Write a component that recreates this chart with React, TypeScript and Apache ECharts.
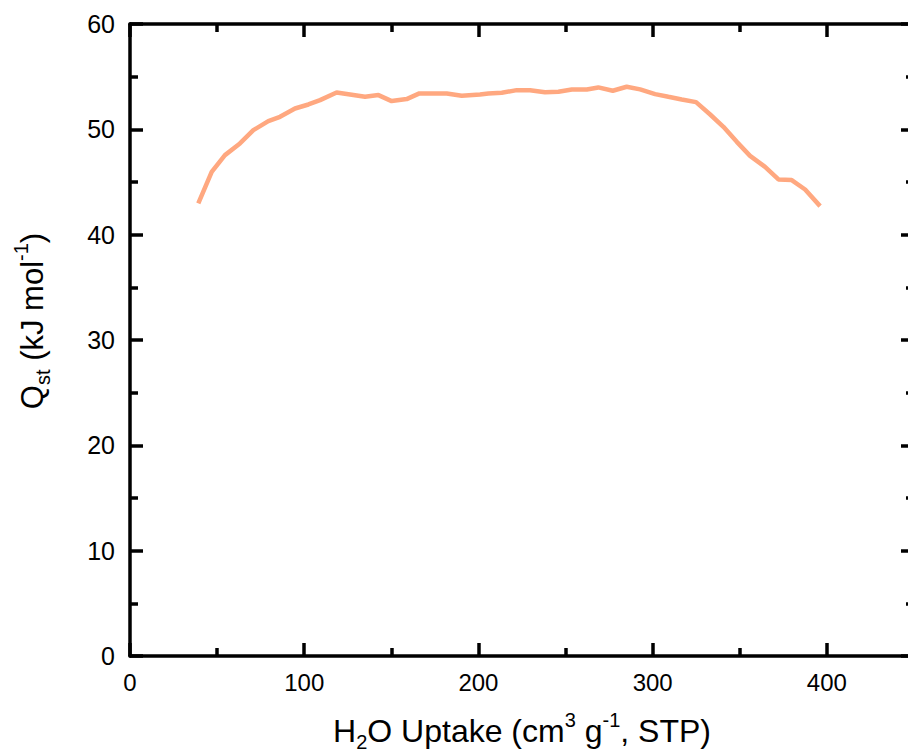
import React, { useEffect, useRef } from "react";
import * as echarts from "echarts";

const uptake = [39.2, 46.9, 54.5, 63.1, 70.8, 79.4, 86.1, 94.7, 102.4, 109.1, 118.6, 126.3, 134.9, 142.6, 150.2, 158.8, 166.1, 174.1, 181.8, 190.4, 200.9, 205.7, 213.4, 222.0, 229.6, 238.2, 245.9, 253.6, 262.2, 268.8, 277.1, 285.1, 292.8, 301.4, 309.0, 316.7, 324.9, 333.0, 340.6, 348.3, 355.9, 364.5, 372.2, 379.8, 387.5, 396.1];
const qst = [42.96, 45.96, 47.55, 48.66, 49.92, 50.78, 51.19, 51.98, 52.36, 52.77, 53.5, 53.31, 53.09, 53.25, 52.68, 52.87, 53.41, 53.41, 53.41, 53.18, 53.31, 53.41, 53.47, 53.72, 53.72, 53.53, 53.56, 53.79, 53.79, 53.98, 53.66, 54.04, 53.79, 53.34, 53.09, 52.84, 52.58, 51.41, 50.24, 48.81, 47.48, 46.44, 45.24, 45.18, 44.29, 42.71];

const xTitle = "H{sub|2}O Uptake (cm{sup|3} g{sup|-1}, STP)";
const yTitle = "Q{sub|st} (kJ mol{sup|-1})";

const FONT = "'Liberation Sans', Arial, sans-serif";

export default function App() {
  const ref = useRef<HTMLDivElement>(null);
  useEffect(() => {
    if (!ref.current) return;
    const chart = echarts.init(ref.current, undefined, { renderer: "svg" });
    const axisLine = { show: true, onZero: false, lineStyle: { color: "#000", width: 3.5 } };
    const tick = { show: true, inside: true, length: 13, lineStyle: { color: "#000", width: 3.5 } };
    const minor = { show: true, splitNumber: 2, length: 8, lineStyle: { color: "#000", width: 3.5 } };
    const rich = {
      sub: { fontSize: 20, fontFamily: FONT, color: "#000", verticalAlign: "bottom", lineHeight: 42 },
      sup: { fontSize: 20, fontFamily: FONT, color: "#000", verticalAlign: "top", lineHeight: 42 },
    };
    chart.setOption({
      animation: false,
      backgroundColor: "#fff",
      grid: { left: 130, top: 24, bottom: 97, right: 16, containLabel: false, outerBoundsMode: "none" },
      xAxis: [
        {
          type: "value",
          position: "bottom",
          min: 0,
          max: 450,
          interval: 100,
          axisLine,
          axisTick: tick,
          minorTick: minor,
          splitLine: { show: false },
          axisLabel: { fontSize: 24, fontFamily: FONT, color: "#000", margin: 14, showMaxLabel: false },
          name: xTitle,
          nameLocation: "middle",
          nameGap: 54,
          nameTextStyle: { fontSize: 32, fontFamily: FONT, color: "#000", lineHeight: 42, rich },
        },
        {
          type: "value",
          position: "top",
          min: 0,
          max: 450,
          interval: 100,
          axisLine,
          axisTick: tick,
          minorTick: minor,
          splitLine: { show: false },
          axisLabel: { show: false },
        },
      ],
      yAxis: [
        {
          type: "value",
          position: "left",
          min: 0,
          max: 60,
          interval: 10,
          axisLine,
          axisTick: tick,
          minorTick: minor,
          splitLine: { show: false },
          axisLabel: { fontSize: 25, fontFamily: FONT, color: "#000", margin: 15 },
          name: yTitle,
          nameLocation: "middle",
          nameGap: 77,
          nameRotate: 90,
          nameTextStyle: { fontSize: 31, fontFamily: FONT, color: "#000", lineHeight: 42, padding: [0, 0, 0, 38], rich },
        },
        {
          type: "value",
          position: "right",
          min: 0,
          max: 60,
          interval: 10,
          axisLine,
          axisTick: tick,
          minorTick: minor,
          splitLine: { show: false },
          axisLabel: { show: false },
        },
      ],
      series: [
        {
          type: "line",
          xAxisIndex: 0,
          yAxisIndex: 0,
          data: uptake.map((x, i) => [x, qst[i]]),
          showSymbol: false,
          symbol: "none",
          lineStyle: { color: "#FFA880", width: 4.5 },
        },
      ],
    });
    return () => chart.dispose();
  }, []);
  return (
    <div style={{ position: "fixed", left: 0, top: 0, width: 908, height: 753, overflow: "hidden", background: "#fff" }}>
      <div ref={ref} style={{ width: 930, height: 753 }} />
    </div>
  );
}
